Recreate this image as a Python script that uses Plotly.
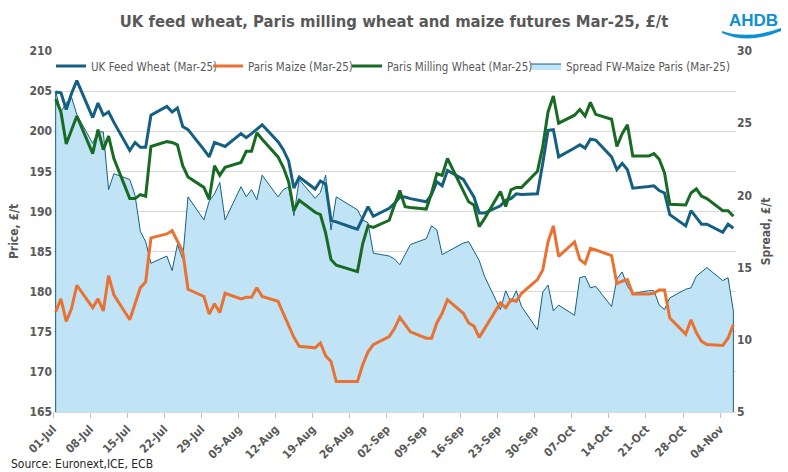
import pandas as pd
import plotly.graph_objects as go

# ---- data ----
dates = pd.bdate_range("2024-07-01", "2024-11-06")  # business days

uk_feed_wheat = [
    204.9, 204.8, 202.7, 204.7, 206.3,
    201.7, 203.5, 202.0, 202.4, 201.1,
    197.6, 198.6, 198.0, 198.0, 202.0,
    203.1, 202.4, 202.9, 200.6, 200.2,
    197.7, 196.8, 198.6, 198.3, 198.1,
    199.7, 199.2, 199.7, 200.2, 200.8,
    198.7, 197.7, 196.3, 192.9, 194.3,
    192.8, 193.8, 193.4, 188.9, 188.7,
    188.0, 187.8, 189.2, 190.6, 189.4,
    190.4, 191.0, 191.8, 191.8, 191.6,
    191.2, 192.1, 193.7, 193.2, 195.1,
    194.0, 192.9, 191.8, 189.8, 189.8,
    190.7, 191.4, 191.6, 192.2, 192.1,
    192.2, 196.0, 200.1, 200.2, 196.8,
    197.9, 198.3, 197.9, 199.0, 198.9,
    196.8, 195.2, 196.0, 195.2, 192.9,
    193.1, 193.2, 192.6, 192.3, 189.6,
    188.2, 190.1, 189.3, 188.4, 188.4,
    187.4, 188.4, 187.9,
]

paris_maize = [
    177.5, 179.1, 176.3, 177.9, 180.8,
    178.0, 179.1, 177.6, 182.0, 179.6,
    176.5, 178.6, 180.5, 181.2, 186.7,
    187.2, 187.6, 186.3, 185.0, 180.3,
    179.4, 177.2, 178.5, 177.4, 179.8,
    179.1, 179.3, 179.3, 180.5, 179.4,
    178.8, 177.3, 175.7, 174.3, 173.2,
    173.0, 173.6, 172.0, 171.3, 168.8,
    168.8, 168.8, 170.9, 172.5, 173.4,
    174.4, 175.4, 176.8, 175.9, 175.0,
    174.2, 174.2, 176.1, 177.3, 179.0,
    177.3, 176.1, 175.7, 174.3, 175.4,
    178.6, 178.0, 179.0, 178.8, 179.8,
    181.5, 182.7, 186.2, 188.2, 184.4,
    186.2, 184.0, 183.5, 185.4, 185.2,
    184.5, 181.0, 181.3, 181.5, 179.7,
    179.7, 179.8, 180.2, 180.2, 176.7,
    174.7, 176.5, 174.9, 173.8, 173.4,
    173.3, 174.2, 175.9,
]

paris_milling_wheat = [
    204.0, 202.4, 198.4, 200.2, 201.9,
    197.2, 200.2, 197.7, 199.4, 196.6,
    191.6, 191.6, 192.1, 191.9, 198.1,
    198.7, 198.6, 198.3, 195.7, 194.3,
    193.0, 191.5, 195.7, 194.5, 195.5,
    196.1, 197.5, 197.5, 199.8, 199.0,
    196.8, 195.5, 193.7, 190.1, 191.4,
    189.9, 189.6, 187.3, 184.0, 183.3,
    182.7, 182.5, 186.0, 188.2, 188.0,
    188.9, 190.8, 192.6, 190.6, 190.5,
    190.3, 192.3, 194.7, 194.5, 196.6,
    192.5, 191.2, 190.8, 188.1, 189.1,
    192.5, 190.6, 192.7, 193.0, 193.0,
    195.0, 198.1, 202.4, 204.4, 201.0,
    202.0, 202.7, 201.9, 203.6, 202.1,
    201.5, 198.1, 199.7, 200.8, 196.9,
    196.9, 197.2, 196.5, 194.8, 190.9,
    190.8, 192.3, 192.8, 191.9, 191.6,
    190.1, 190.1, 189.4,
]

spread_fw_maize = [
    27.2, 25.8, 26.4, 26.8, 25.6,
    23.6, 24.4, 24.4, 20.4, 21.5,
    21.1, 20.0, 17.5, 16.8, 15.3,
    15.8, 14.8, 16.6, 15.6, 19.9,
    18.3, 19.6, 20.1, 20.9, 18.3,
    20.6, 19.9, 20.4, 19.7, 21.4,
    19.9, 20.4, 20.6, 18.6, 21.1,
    19.8, 20.2, 21.4, 17.6, 19.9,
    19.2, 19.0, 18.3, 18.1, 16.0,
    15.8, 15.6, 15.2, 15.9, 16.6,
    17.0, 17.9, 17.6, 15.9, 16.1,
    16.7, 16.8, 16.1, 15.5, 14.4,
    12.1, 13.4, 12.6, 13.4, 12.3,
    10.7, 13.3, 13.8, 12.0, 12.4,
    11.7, 14.3, 14.4, 13.6, 13.7,
    12.3, 14.2, 14.7, 13.7, 13.2,
    13.4, 13.4, 12.4, 12.1, 12.9,
    13.5, 13.6, 14.4, 14.7, 15.0,
    14.1, 14.3, 12.0,
]

PRICE_RANGE = [165, 210]
SPREAD_RANGE = [5, 30]
X_RANGE = ["2024-07-01", "2024-11-07"]

# points sit in the middle of each day (Excel date axis)
x = [d + pd.Timedelta(hours=12) for d in dates]

BLUE = "#156082"
ORANGE = "#E97132"
GREEN = "#196B24"
FILL = "#C0E4F5"
GREY = "#595959"
FONT = "DejaVu Sans Condensed, Liberation Sans Narrow, Arial Narrow, sans-serif"

W, H = 788, 472
ML, MR, MT, MB = 53, 52, 51, 60
PW, PH = W - ML - MR, H - MT - MB


def paper_x(px_):
    return (px_ - ML) / PW


def paper_y(py_):
    return (H - MB - py_) / PH


fig = go.Figure()

# empty trace on the base axis (carries the price gridlines)
fig.add_trace(go.Scatter(x=[], y=[], yaxis="y", showlegend=False, hoverinfo="skip"))

# spread area (closed polygon down to the axis baseline)
fig.add_trace(go.Scatter(
    x=[x[0]] + x + [x[-1]],
    y=[SPREAD_RANGE[0]] + spread_fw_maize + [SPREAD_RANGE[0]],
    yaxis="y2", mode="lines", fill="toself", fillcolor=FILL,
    line=dict(color=BLUE, width=1),
    name="Spread FW-Maize Paris (Mar-25)", legend="legend4",
))

fig.add_trace(go.Scatter(x=x, y=uk_feed_wheat, yaxis="y3", mode="lines",
                         line=dict(color=BLUE, width=3),
                         name="UK Feed Wheat (Mar-25)", legend="legend"))
fig.add_trace(go.Scatter(x=x, y=paris_maize, yaxis="y3", mode="lines",
                         line=dict(color=ORANGE, width=3),
                         name="Paris Maize (Mar-25)", legend="legend2"))
fig.add_trace(go.Scatter(x=x, y=paris_milling_wheat, yaxis="y3", mode="lines",
                         line=dict(color=GREEN, width=3),
                         name="Paris Milling Wheat (Mar-25)", legend="legend3"))

axis_font = dict(family=FONT, size=12, color=GREY, weight="bold")


def legend_at(text_left_px):
    return dict(orientation="h", x=paper_x(text_left_px - 40), xanchor="left",
                y=paper_y(66), yanchor="middle", bgcolor="rgba(0,0,0,0)",
                borderwidth=0, font=dict(family=FONT, size=11.5, color=GREY),
                itemwidth=30)


fig.update_layout(
    width=W, height=H,
    margin=dict(l=ML, r=MR, t=MT, b=MB, autoexpand=False),
    paper_bgcolor="white", plot_bgcolor="white",
    font=dict(family=FONT, color=GREY),
    title=dict(text="<b>UK feed wheat, Paris milling wheat and maize futures Mar-25, £/t</b>",
               x=0.5, xref="container", xanchor="center",
               y=1 - 21 / H, yref="container", yanchor="middle",
               font=dict(family=FONT, size=16.5, color=GREY)),
    xaxis=dict(type="date", range=X_RANGE, tick0="2024-07-01", dtick=7 * 86400000,
               tickformat="%d-%b", tickangle=-45, ticks="outside", ticklen=5,
               tickcolor="#BFBFBF", showline=True, linecolor="#D9D9D9", linewidth=1,
               showgrid=False, zeroline=False,
               tickfont=dict(family=FONT, size=11.5, color=GREY, weight="bold")),
    yaxis=dict(range=PRICE_RANGE, tick0=165, dtick=5, showgrid=True, gridcolor="#D9D9D9",
               gridwidth=1, zeroline=False, showline=False, side="left",
               tickfont=axis_font,
               title=dict(text="Price, £/t", font=dict(family=FONT, size=12, color=GREY, weight="bold"),
                          standoff=8)),
    yaxis2=dict(range=SPREAD_RANGE, tick0=5, dtick=5, overlaying="y", side="right",
                showgrid=False, zeroline=False, showline=False, tickfont=axis_font,
                title=dict(text="Spread, £/t", font=dict(family=FONT, size=12, color=GREY, weight="bold"),
                           standoff=10)),
    yaxis3=dict(range=PRICE_RANGE, overlaying="y", visible=False),
    legend=legend_at(91),
    legend2=legend_at(248),
    legend3=legend_at(387),
    legend4=legend_at(566),
    showlegend=True,
    annotations=[
        dict(text="Source: Euronext,ICE, ECB", xref="paper", yref="paper",
             x=paper_x(9), y=paper_y(464), xanchor="left", yanchor="middle",
             showarrow=False, font=dict(family=FONT, size=12, color="#262626")),
        dict(text="<b>AHDB</b>", xref="paper", yref="paper",
             x=paper_x(780), y=paper_y(21), xanchor="right", yanchor="middle",
             showarrow=False, font=dict(family="Liberation Sans, Arial, sans-serif", size=17, color="#0E8FD3")),
    ],
)


# AHDB swoosh under the logo text
def pt(xp, yp):
    return f"{paper_x(xp):.4f},{paper_y(yp):.4f}"


swoosh = (f"M {pt(722, 31)} Q {pt(748, 40)} {pt(781, 28)} "
          f"L {pt(781, 31)} Q {pt(748, 45)} {pt(722, 33)} Z")
fig.add_shape(type="path", xref="paper", yref="paper", path=swoosh,
              fillcolor="#0E8FD3", line=dict(width=0))

# remove the browser's default page margin so the figure sits at the window origin
fig.write_html("out.html", config={"displayModeBar": False},
               post_script="document.body.style.margin='0px';")
